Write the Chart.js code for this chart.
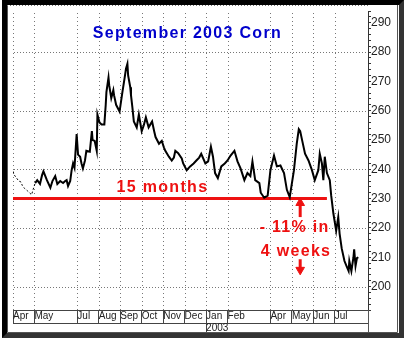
<!DOCTYPE html>
<html>
<head>
<meta charset="utf-8">
<script src="https://cdn.jsdelivr.net/npm/chart.js@4/dist/chart.umd.min.js"></script>
<style>
body { margin: 0; background: #fff; width: 411px; height: 344px; overflow: hidden; }
#frame { position: absolute; left: 2px; top: 0; width: 392px; height: 328px;
         border: 5px solid #000; border-right-color: #333; border-bottom-color: #333; }
canvas { display: block; }
</style>
</head>
<body>
<div id="frame"><canvas id="cornChart" width="392" height="328"></canvas></div>
<script>
// September 2003 corn futures, prices (cents/bu)
var priceDates = [
    '2002-04-01','2002-04-03','2002-04-06','2002-04-09','2002-04-12','2002-04-14','2002-04-17','2002-04-21','2002-04-27','2002-04-29',
    '2002-05-02','2002-05-05','2002-05-09','2002-05-12','2002-05-14','2002-05-17','2002-05-19','2002-05-24','2002-05-27','2002-05-31',
    '2002-06-03','2002-06-07','2002-06-11','2002-06-14','2002-06-16','2002-06-18','2002-06-21','2002-06-23','2002-06-25','2002-06-27','2002-06-30',
    '2002-07-02','2002-07-05','2002-07-07','2002-07-09','2002-07-12','2002-07-14','2002-07-19','2002-07-22','2002-07-23','2002-07-26','2002-07-29','2002-07-30',
    '2002-08-02','2002-08-05','2002-08-09','2002-08-11','2002-08-12','2002-08-15','2002-08-16','2002-08-19','2002-08-22','2002-08-23','2002-08-26','2002-08-31',
    '2002-09-02','2002-09-04','2002-09-07','2002-09-09','2002-09-11','2002-09-12','2002-09-15','2002-09-16','2002-09-18','2002-09-20','2002-09-24','2002-09-27',
    '2002-10-01','2002-10-04','2002-10-07','2002-10-11','2002-10-16','2002-10-19','2002-10-21','2002-10-26','2002-10-30',
    '2002-11-02','2002-11-04','2002-11-09','2002-11-13','2002-11-16','2002-11-18','2002-11-22','2002-11-27','2002-11-29',
    '2002-12-04','2002-12-09','2002-12-14','2002-12-18','2002-12-22','2002-12-25','2002-12-31',
    '2003-01-04','2003-01-08','2003-01-11','2003-01-14','2003-01-18','2003-01-23','2003-01-28',
    '2003-02-01','2003-02-05','2003-02-10','2003-02-14','2003-02-18','2003-02-23','2003-02-27',
    '2003-03-03','2003-03-06','2003-03-10','2003-03-16','2003-03-18','2003-03-23','2003-03-28',
    '2003-04-01','2003-04-06','2003-04-10','2003-04-15','2003-04-20','2003-04-24','2003-04-28',
    '2003-05-04','2003-05-08','2003-05-11','2003-05-13','2003-05-16','2003-05-20','2003-05-25','2003-05-30',
    '2003-06-03','2003-06-08','2003-06-10','2003-06-13','2003-06-15','2003-06-17','2003-06-20','2003-06-24','2003-06-26','2003-06-29',
    '2003-07-03','2003-07-06','2003-07-08','2003-07-11','2003-07-15','2003-07-18','2003-07-21','2003-07-22','2003-07-25','2003-07-28','2003-07-29','2003-07-31',
    '2003-08-02','2003-08-04'
];
var settle = [
    239.3, 238, 237, 236, 235.7, 234.5, 233.5, 232.7, 231.3, 233,
    235.3, 236.3, 235, 238, 239.3, 237.5, 236.3, 233.7, 236, 237.7,
    235, 236, 235.3, 236, 236.3, 234.3, 236, 239.7, 242, 240.5, 252,
    245, 244.3, 242, 240.3, 243, 246.3, 246, 253, 250, 249.7, 246.3, 258.7,
    256, 255.3, 255.3, 262, 266.3, 271.3, 268.7, 264.3, 267, 265.3, 262, 259.7,
    263, 266.3, 271, 274.3, 276, 272, 268, 265.3, 261, 256.3, 254.3, 258.7,
    253, 255, 257.7, 254.3, 256.3, 253, 251, 248.7, 249.7,
    247.5, 246.3, 244.3, 243, 244, 246.3, 245.5, 243.7, 242,
    239.7, 241, 242, 243, 244, 245.3, 242,
    242.7, 247.7, 244.3, 238.7, 237, 241, 242,
    243, 244.7, 246.3, 242.7, 240.3, 236.3, 238.7,
    237.7, 242.7, 236.3, 235.3, 232, 230.3, 231,
    239.7, 244.7, 241, 241.3, 238.7, 233, 230.5,
    239.7, 248.7, 253.7, 253, 249.7, 245.3, 243, 239.7,
    236.3, 239.7, 245.3, 242, 236.3, 244.3, 238.7, 236.3, 231, 225,
    219, 223.7, 218, 213, 208.7, 207, 205.3, 208.7, 205.3, 210, 212.7, 207,
    209.7, 210
];

// date axis
var axisStart = '2002-04-01';
var axisEnd = '2003-08-18';
var monthTicks = ['2002-04','2002-05','2002-07','2002-08','2002-09','2002-10','2002-11','2002-12',
                  '2003-01','2003-02','2003-04','2003-05','2003-06','2003-07'];
var monthNames = ['Apr','May','Jul','Aug','Sep','Oct','Nov','Dec','Jan','Feb','Apr','May','Jun','Jul'];
var yearTicks = ['2003-01'];
var yearNames = ['2003'];

// price axis
var priceMin = 192, priceMax = 294, priceStep = 2, labelEvery = 10, gridEvery = 20;

// the 15 month support line and the drop arrows
var supportLevel = 230;
var supportFrom = '2002-04-01', supportTo = '2003-06-20';
var arrowDate = '2003-05-13';
var upArrow = [223.7, 228.5];
var downArrow = [209.3, 205.7];

// text on the chart
var noteText  = ['September 2003 Corn', '15 months', '- 11% in', '4 weeks'];
var noteDate  = ['2002-12-05', '2002-10-31', '2003-05-05', '2003-05-07'];
var noteLevel = [286.2, 233.8, 220, 212];
var noteColor = ['#0000cc', '#ee1111', '#ee1111', '#ee1111'];

var red = '#ee1111';
var tickFont = "Arial, 'Liberation Sans', sans-serif";

// months since Apr 2002, with the day as a fraction of the month
function monthNo(s) {
    var p = s.split('-');
    var y = +p[0], m = +p[1], d = p[2] ? +p[2] : 1;
    var dim = new Date(y, m, 0).getDate();
    return (y - 2002) * 12 + (m - 4) + (d - 1) / dim;
}

// dotted grid at the scales' own ticks (dashed hairlines drop out in this renderer)
var dotGridPlugin = {
    id: 'dotGrid',
    beforeDatasetsDraw: function(chart) {
        var c = chart.ctx, a = chart.chartArea, xs = chart.scales.x, ys = chart.scales.y;
        c.save();
        c.fillStyle = '#777';
        xs.ticks.forEach(function(t) {
            var px = Math.round(xs.getPixelForValue(t.value));
            for (var y = Math.round(a.top) + 2; y < a.bottom; y += 4) c.fillRect(px, y, 1, 1);
        });
        ys.ticks.forEach(function(t) {
            if (t.value % gridEvery !== 0) return;
            var py = Math.round(ys.getPixelForValue(t.value));
            for (var x = Math.round(a.left) + 1; x < a.right; x += 3) c.fillRect(x, py, 1, 1);
        });
        c.restore();
    }
};

var notesPlugin = {
    id: 'notes',
    afterDatasetsDraw: function(chart) {
        var c = chart.ctx, xs = chart.scales.x, ys = chart.scales.y;
        c.save();
        c.font = "bold 16px " + tickFont;
        c.letterSpacing = '1.3px';
        c.textAlign = 'center';
        c.textBaseline = 'middle';
        noteText.forEach(function(t, i) {
            c.fillStyle = noteColor[i];
            c.fillText(t, xs.getPixelForValue(monthNo(noteDate[i])), ys.getPixelForValue(noteLevel[i]));
        });
        c.restore();
    }
};

var framePlugin = {
    id: 'frame',
    afterDraw: function(chart) {
        var c = chart.ctx, a = chart.chartArea, w = chart.width, h = chart.height;
        var rx = Math.round(a.right) + 0.5;
        c.save();
        c.strokeStyle = '#555';
        c.lineWidth = 1;
        c.beginPath();
        c.moveTo(0.5, 0); c.lineTo(0.5, h - 0.5);
        c.lineTo(w - 1.5, h - 0.5); c.lineTo(w - 1.5, 0);
        c.moveTo(rx, a.bottom); c.lineTo(rx, h - 1);
        c.stroke();
        c.fillStyle = '#777';
        for (var x = 0; x < rx; x += 3) c.fillRect(x, 0, 1, 1);
        c.restore();
    }
};

var ctx = document.getElementById('cornChart').getContext('2d');
var chart = new Chart(ctx, {
    type: 'line',

    data: {
        datasets: [{
            label: 'Sep 2003 Corn',
            data: priceDates.map(function(d, i) { return {x: monthNo(d), y: settle[i]}; }),
            borderColor: '#000',
            borderWidth: 2,
            pointRadius: 0,
            tension: 0,
            segment: {
                // thin, sparse trading at the start of the contract
                borderDash: function(c) { return c.p0.parsed.x < 1 ? [2, 2] : undefined; },
                borderWidth: function(c) { return c.p0.parsed.x < 1 ? 1 : undefined; }
            }
        }, {
            label: '15 months',
            data: [{x: monthNo(supportFrom), y: supportLevel}, {x: monthNo(supportTo), y: supportLevel}],
            borderColor: red,
            borderWidth: 3,
            pointRadius: 0
        }, {
            label: 'up',
            data: [{x: monthNo(arrowDate), y: upArrow[0]}, {x: monthNo(arrowDate), y: upArrow[1]}],
            borderColor: red,
            backgroundColor: red,
            borderWidth: 3,
            pointRadius: [0, 5],
            pointBorderWidth: 1,
            pointStyle: 'triangle',
            rotation: 0
        }, {
            label: 'down',
            data: [{x: monthNo(arrowDate), y: downArrow[0]}, {x: monthNo(arrowDate), y: downArrow[1]}],
            borderColor: red,
            backgroundColor: red,
            borderWidth: 3,
            pointRadius: [0, 5],
            pointBorderWidth: 1,
            pointStyle: 'triangle',
            rotation: 180
        }]
    },

    options: {
        responsive: false,
        animation: false,
        layout: { padding: { left: 0, top: 0, right: 2, bottom: 1 } },
        plugins: {
            legend: { display: false },
            tooltip: { enabled: false }
        },
        scales: {
            x: {
                type: 'linear',
                position: 'bottom',
                min: monthNo(axisStart),
                max: monthNo(axisEnd),
                afterBuildTicks: function(s) {
                    s.ticks = monthTicks.map(function(m) { return {value: monthNo(m)}; });
                },
                afterFit: function(s) { s.height = 13; s.paddingLeft = 0; s.paddingRight = 0; },
                ticks: {
                    callback: function(v, i) { return monthNames[i]; },
                    autoSkip: false,
                    maxRotation: 0,
                    minRotation: 0,
                    align: 'start',
                    padding: -13,
                    color: '#222',
                    font: { family: tickFont, size: 10 }
                },
                grid: { drawOnChartArea: false, tickLength: 13, tickColor: '#444', tickWidth: 1 },
                border: { color: '#444' }
            },
            x2: {
                type: 'linear',
                position: 'bottom',
                min: monthNo(axisStart),
                max: monthNo(axisEnd),
                afterBuildTicks: function(s) {
                    s.ticks = yearTicks.map(function(m) { return {value: monthNo(m)}; });
                },
                afterFit: function(s) { s.height = 9; s.paddingLeft = 0; s.paddingRight = 0; },
                ticks: {
                    callback: function(v, i) { return yearNames[i]; },
                    autoSkip: false,
                    maxRotation: 0,
                    align: 'start',
                    padding: -10,
                    color: '#222',
                    font: { family: tickFont, size: 10 }
                },
                grid: { drawOnChartArea: false, tickLength: 9, tickColor: '#444' },
                border: { color: '#444' }
            },
            y: {
                position: 'right',
                min: priceMin,
                max: priceMax,
                afterBuildTicks: function(s) {
                    var t = [];
                    for (var v = priceMin; v <= priceMax; v += priceStep) t.push({value: v});
                    s.ticks = t;
                },
                afterFit: function(s) { s.width = 29; s.paddingTop = 0; s.paddingBottom = 0; },
                ticks: {
                    callback: function(v) { return v % labelEvery === 0 ? String(v) : ''; },
                    autoSkip: false,
                    padding: 0,
                    color: '#222',
                    font: { family: tickFont, size: 12 }
                },
                grid: { drawOnChartArea: false, tickLength: 3, tickColor: '#333' },
                border: { color: '#333' }
            }
        }
    },
    plugins: [dotGridPlugin, notesPlugin, framePlugin]
});
</script>
</body>
</html>
